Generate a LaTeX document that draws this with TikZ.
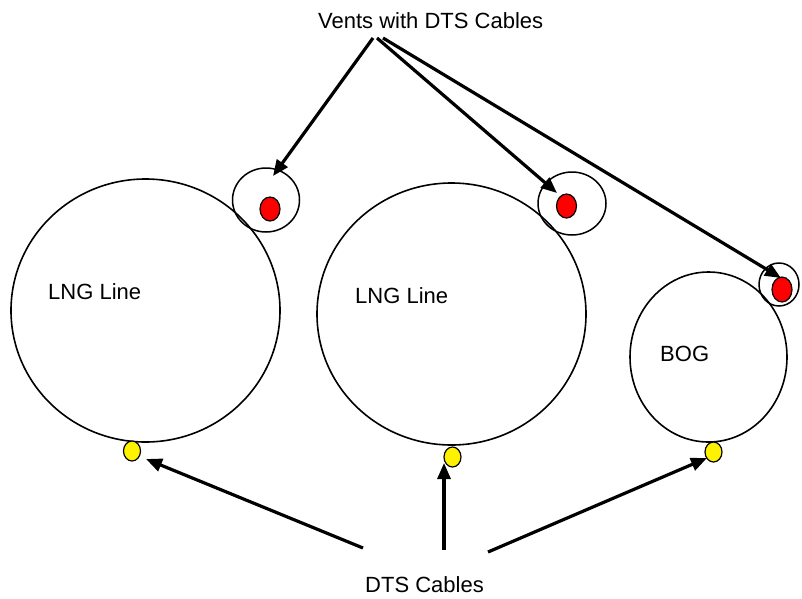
\documentclass[tikz,border=0pt]{standalone}
\usepackage{fontspec}
\setmainfont{Liberation Sans}
\usetikzlibrary{arrows.meta}
\begin{document}
\begin{tikzpicture}[x=1pt,y=-1pt,
  pipe/.style={draw=black,line width=1.6pt},
  vent/.style={draw=black,line width=1.5pt},
  reddot/.style={draw=black,fill=red,line width=1.2pt},
  yeldot/.style={draw=black,fill=yellow,line width=1.2pt},
  lbl/.style={anchor=base west,inner sep=0pt,font=\fontsize{22pt}{26pt}\selectfont},
  arr/.style={line width=3.2pt,-{Triangle[length=16pt,width=13pt]}}]
\useasboundingbox (0,0) rectangle (802,598);
% big pipes
\draw[pipe] (145.5,310.5) ellipse [x radius=134.5,y radius=131.5];
\draw[pipe] (451.5,314) ellipse [x radius=134.5,y radius=131];
\draw[pipe] (708.5,357) ellipse [x radius=78.5,y radius=85];
% vents
\draw[vent] (266,200) ellipse [x radius=33.5,y radius=32];
\draw[vent] (572,203.5) ellipse [x radius=34,y radius=31.5];
\draw[vent] (779,284.5) ellipse [x radius=20,y radius=21.5];
% red dots
\draw[reddot] (270,209) ellipse [x radius=10,y radius=12];
\draw[reddot] (566.5,206) ellipse [x radius=10,y radius=12];
\draw[reddot] (782,289.5) ellipse [x radius=10,y radius=12.5];
% yellow dots
\draw[yeldot] (132,451) ellipse [x radius=8.5,y radius=10];
\draw[yeldot] (452.5,457) ellipse [x radius=8.5,y radius=10];
\draw[yeldot] (713.5,452) ellipse [x radius=8.5,y radius=10];
% labels
\node[lbl] (vents) at (318,28) {Vents with DTS Cables};
\node[lbl] (dts) at (365,592) {DTS Cables};
\node[lbl] (lng1) at (48,299) {LNG Line};
\node[lbl] (lng2) at (355,303) {LNG Line};
\node[lbl] (bog) at (660,361) {BOG};
% arrow end points
\coordinate (v1s) at (373,38);
\coordinate (v2s) at (377,38);
\coordinate (v3s) at (383,38);
\coordinate (v1e) at (273,176);
\coordinate (v2e) at (557,193);
\coordinate (v3e) at (781,278);
\coordinate (d1s) at (363,548);
\coordinate (d2s) at (444,550);
\coordinate (d3s) at (488,552);
\coordinate (d1e) at (146,459);
\coordinate (d2e) at (444,463);
\coordinate (d3e) at (707,458);
\draw[arr] (v1s) -- (v1e);
\draw[arr] (v2s) -- (v2e);
\draw[arr] (v3s) -- (v3e);
\draw[arr] (d1s) -- (d1e);
\draw[arr] (d2s) -- (d2e);
\draw[arr] (d3s) -- (d3e);
\end{tikzpicture}
\end{document}
